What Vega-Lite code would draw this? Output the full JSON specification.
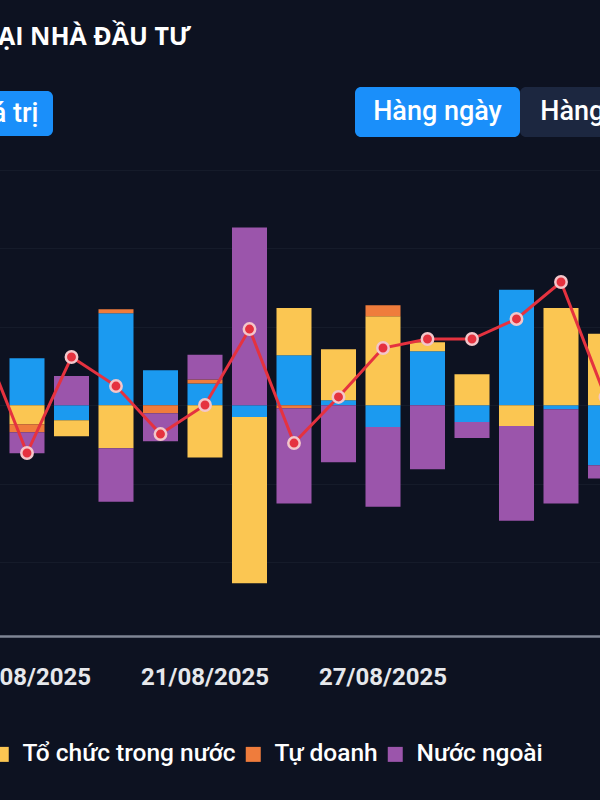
{
  "$schema": "https://vega.github.io/schema/vega-lite/v6.json",
  "width": 600,
  "height": 466,
  "autosize": {"type": "none"},
  "padding": {"top": 170, "left": 0, "right": 0, "bottom": 164},
  "background": "#0d1221",
  "config": {
    "view": {"stroke": null},
    "font": "Roboto"
  },
  "title": {
    "text": "LOẠI NHÀ ĐẦU TƯ",
    "anchor": "start",
    "frame": "group",
    "align": "right",
    "dx": 191,
    "offset": 17.5,
    "baseline": "alphabetic",
    "color": "#ffffff",
    "fontSize": 25,
    "fontWeight": "bold",
    "font": "Open Sans"
  },
  "datasets": {
    "dongTien": [
      {"ngay": "15/08/2025", "loai": "Cá nhân", "giaTri": 599},
      {"ngay": "15/08/2025", "loai": "Tổ chức trong nước", "giaTri": -242},
      {"ngay": "15/08/2025", "loai": "Tự doanh", "giaTri": -102},
      {"ngay": "15/08/2025", "loai": "Nước ngoài", "giaTri": -268},
      {"ngay": "18/08/2025", "loai": "Cá nhân", "giaTri": -191},
      {"ngay": "18/08/2025", "loai": "Tổ chức trong nước", "giaTri": -204},
      {"ngay": "18/08/2025", "loai": "Nước ngoài", "giaTri": 373},
      {"ngay": "19/08/2025", "loai": "Cá nhân", "giaTri": 1172},
      {"ngay": "19/08/2025", "loai": "Tổ chức trong nước", "giaTri": -548},
      {"ngay": "19/08/2025", "loai": "Tự doanh", "giaTri": 51},
      {"ngay": "19/08/2025", "loai": "Nước ngoài", "giaTri": -684},
      {"ngay": "20/08/2025", "loai": "Cá nhân", "giaTri": 446},
      {"ngay": "20/08/2025", "loai": "Tự doanh", "giaTri": -102},
      {"ngay": "20/08/2025", "loai": "Nước ngoài", "giaTri": -357},
      {"ngay": "21/08/2025", "loai": "Cá nhân", "giaTri": 276},
      {"ngay": "21/08/2025", "loai": "Tổ chức trong nước", "giaTri": -666},
      {"ngay": "21/08/2025", "loai": "Tự doanh", "giaTri": 51},
      {"ngay": "21/08/2025", "loai": "Nước ngoài", "giaTri": 318},
      {"ngay": "22/08/2025", "loai": "Cá nhân", "giaTri": -149},
      {"ngay": "22/08/2025", "loai": "Tổ chức trong nước", "giaTri": -2122},
      {"ngay": "22/08/2025", "loai": "Nước ngoài", "giaTri": 2268},
      {"ngay": "25/08/2025", "loai": "Cá nhân", "giaTri": 637},
      {"ngay": "25/08/2025", "loai": "Tổ chức trong nước", "giaTri": 603},
      {"ngay": "25/08/2025", "loai": "Tự doanh", "giaTri": -38},
      {"ngay": "25/08/2025", "loai": "Nước ngoài", "giaTri": -1214},
      {"ngay": "26/08/2025", "loai": "Cá nhân", "giaTri": 64},
      {"ngay": "26/08/2025", "loai": "Tổ chức trong nước", "giaTri": 650},
      {"ngay": "26/08/2025", "loai": "Nước ngoài", "giaTri": -726},
      {"ngay": "27/08/2025", "loai": "Cá nhân", "giaTri": -276},
      {"ngay": "27/08/2025", "loai": "Tổ chức trong nước", "giaTri": 1134},
      {"ngay": "27/08/2025", "loai": "Tự doanh", "giaTri": 140},
      {"ngay": "27/08/2025", "loai": "Nước ngoài", "giaTri": -1019},
      {"ngay": "28/08/2025", "loai": "Cá nhân", "giaTri": 688},
      {"ngay": "28/08/2025", "loai": "Tổ chức trong nước", "giaTri": 115},
      {"ngay": "28/08/2025", "loai": "Nước ngoài", "giaTri": -815},
      {"ngay": "29/08/2025", "loai": "Cá nhân", "giaTri": -213},
      {"ngay": "29/08/2025", "loai": "Tổ chức trong nước", "giaTri": 395},
      {"ngay": "29/08/2025", "loai": "Nước ngoài", "giaTri": -204},
      {"ngay": "03/09/2025", "loai": "Cá nhân", "giaTri": 1474},
      {"ngay": "03/09/2025", "loai": "Tổ chức trong nước", "giaTri": -264},
      {"ngay": "03/09/2025", "loai": "Nước ngoài", "giaTri": -1210},
      {"ngay": "04/09/2025", "loai": "Cá nhân", "giaTri": -51},
      {"ngay": "04/09/2025", "loai": "Tổ chức trong nước", "giaTri": 1240},
      {"ngay": "04/09/2025", "loai": "Nước ngoài", "giaTri": -1201},
      {"ngay": "05/09/2025", "loai": "Cá nhân", "giaTri": -764},
      {"ngay": "05/09/2025", "loai": "Tổ chức trong nước", "giaTri": 913},
      {"ngay": "05/09/2025", "loai": "Nước ngoài", "giaTri": -169}
    ],
    "chiSo": [
      {"ngay": "14/08/2025", "chiSo": 1639.9},
      {"ngay": "15/08/2025", "chiSo": 1567.8},
      {"ngay": "18/08/2025", "chiSo": 1629.6},
      {"ngay": "19/08/2025", "chiSo": 1610.9},
      {"ngay": "20/08/2025", "chiSo": 1580.0},
      {"ngay": "21/08/2025", "chiSo": 1598.7},
      {"ngay": "22/08/2025", "chiSo": 1647.6},
      {"ngay": "25/08/2025", "chiSo": 1574.2},
      {"ngay": "26/08/2025", "chiSo": 1603.9},
      {"ngay": "27/08/2025", "chiSo": 1635.4},
      {"ngay": "28/08/2025", "chiSo": 1641.2},
      {"ngay": "29/08/2025", "chiSo": 1641.2},
      {"ngay": "03/09/2025", "chiSo": 1654.1},
      {"ngay": "04/09/2025", "chiSo": 1677.9},
      {"ngay": "05/09/2025", "chiSo": 1603.9}
    ],
    "nut": [
      {"nut": "Giá trị", "nhom": "Chỉ tiêu", "dangChon": true},
      {"nut": "Hàng ngày", "nhom": "Chu kỳ", "dangChon": true},
      {"nut": "Hàng tuần", "nhom": "Chu kỳ", "dangChon": false}
    ]
  },
  "layer": [
    {
      "layer": [
        {
          "data": {"name": "dongTien"},
          "transform": [
            {"calculate": "indexof(['Cá nhân','Tổ chức trong nước','Tự doanh','Nước ngoài'], datum.loai)", "as": "thuTu"}
          ],
          "mark": {"type": "bar"},
          "encoding": {
            "x": {
              "field": "ngay",
              "type": "ordinal",
              "scale": {
                "domain": ["14/08/2025", "15/08/2025", "18/08/2025", "19/08/2025", "20/08/2025", "21/08/2025", "22/08/2025", "25/08/2025", "26/08/2025", "27/08/2025", "28/08/2025", "29/08/2025", "03/09/2025", "04/09/2025", "05/09/2025"],
                "range": [-39.75, 627.75],
                "paddingInner": 0.213,
                "paddingOuter": 0.1065
              },
              "axis": {
                "title": null,
                "labelAngle": 0,
                "ticks": false,
                "tickSize": 0,
                "domainColor": "#7e8594",
                "domainWidth": 2.5,
                "labelColor": "#e6e8ec",
                "labelFontSize": 24,
                "labelFontWeight": "bold",
                "labelFont": "Roboto",
                "labelPadding": 29,
                "labelOverlap": false,
                "labelExpr": "indexof(['15/08/2025','21/08/2025','27/08/2025'], datum.label) >= 0 ? datum.label : ''"
              }
            },
            "y": {
              "field": "giaTri",
              "type": "quantitative",
              "stack": "zero",
              "scale": {"domain": [-2943, 3000], "nice": false},
              "axis": {
                "title": null,
                "labels": false,
                "ticks": false,
                "domain": false,
                "grid": true,
                "gridColor": "#151b2a",
                "gridWidth": 1,
                "values": [-2000, -1000, 0, 1000, 2000, 3000]
              }
            },
            "color": {
              "field": "loai",
              "type": "nominal",
              "scale": {
                "domain": ["Cá nhân", "Tổ chức trong nước", "Tự doanh", "Nước ngoài"],
                "range": ["#1b9af0", "#fbc652", "#ef7c3c", "#9b55ab"]
              },
              "legend": {
                "orient": "none",
                "legendX": -139,
                "legendY": 572,
                "direction": "horizontal",
                "columns": 4,
                "title": null,
                "symbolType": "square",
                "symbolSize": 225,
                "symbolStrokeWidth": 0,
                "symbolOpacity": 1,
                "labelFontSize": 24.5,
                "labelFont": "Roboto",
                "labelFontWeight": 500,
                "labelColor": "#ffffff",
                "labelOffset": 9,
                "columnPadding": 5,
                "labelLimit": 400
              }
            },
            "order": {"field": "thuTu", "type": "quantitative"}
          }
        },
        {
          "data": {"name": "chiSo"},
          "mark": {
            "type": "line",
            "color": "#e5323f",
            "strokeWidth": 3,
            "point": {"filled": true, "fill": "#e5323f", "stroke": "#f3c6ca", "strokeWidth": 2.5, "size": 130, "opacity": 1}
          },
          "encoding": {
            "x": {"field": "ngay", "type": "ordinal"},
            "y": {
              "field": "chiSo",
              "type": "quantitative",
              "scale": {"domain": [1450, 1750], "nice": false, "zero": false},
              "axis": null
            }
          }
        }
      ],
      "resolve": {"scale": {"y": "independent"}}
    },
    {
      "data": {"name": "nut"},
      "transform": [{"filter": "datum.nhom === 'Chỉ tiêu'"}],
      "encoding": {
        "x": {"field": "nut", "type": "nominal", "scale": {"type": "band", "domain": ["Giá trị"], "range": [-48, 53], "paddingInner": 0, "paddingOuter": 0}, "axis": null},
        "y": {"field": "nhom", "type": "nominal", "scale": {"type": "band", "domain": ["Chỉ tiêu"], "range": [-79, -34], "paddingInner": 0, "paddingOuter": 0}, "axis": null}
      },
      "layer": [
        {"mark": {"type": "rect", "cornerRadius": 6}, "encoding": {"color": {"condition": {"test": "datum.dangChon", "value": "#1a8ffa"}, "value": "#1c2740"}}},
        {"mark": {"type": "text", "color": "#ffffff", "fontSize": 27, "fontWeight": 500, "font": "Roboto"}, "encoding": {"text": {"field": "nut"}}}
      ]
    },
    {
      "data": {"name": "nut"},
      "transform": [{"filter": "datum.nhom === 'Chu kỳ'"}],
      "encoding": {
        "x": {"field": "nut", "type": "nominal", "scale": {"type": "band", "domain": ["Hàng ngày", "Hàng tuần"], "range": [355, 685], "paddingInner": 0, "paddingOuter": 0}, "axis": null},
        "y": {"field": "nhom", "type": "nominal", "scale": {"type": "band", "domain": ["Chu kỳ"], "range": [-83, -33], "paddingInner": 0, "paddingOuter": 0}, "axis": null}
      },
      "layer": [
        {"mark": {"type": "rect", "cornerRadius": 6}, "encoding": {"color": {"condition": {"test": "datum.dangChon", "value": "#1a8ffa"}, "value": "#1c2740"}}},
        {"mark": {"type": "text", "color": "#ffffff", "fontSize": 27, "fontWeight": 500, "font": "Roboto"}, "encoding": {"text": {"field": "nut"}}}
      ]
    }
  ],
  "resolve": {"scale": {"x": "independent", "y": "independent"}}
}
